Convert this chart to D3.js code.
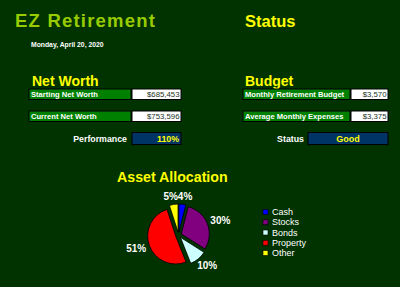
<!DOCTYPE html>
<html>
<head>
<meta charset="utf-8">
<script src="https://cdn.jsdelivr.net/npm/d3@7"></script>
<style>
  body { margin: 0; background: #003300; }
  svg { display: block; font-family: "Liberation Sans", Arial, sans-serif; }
</style>
</head>
<body>
<script>
// ---- data ----
const reportDate = "Monday, April 20, 2020";

const netWorthLabels = ["Starting Net Worth", "Current Net Worth"];
const netWorthValues = [685453, 753596];
const performance = "110%";

const budgetLabels = ["Monthly Retirement Budget", "Average Monthly Expenses"];
const budgetValues = [3570, 3375];
const budgetStatus = "Good";

const assetCategories = ["Cash", "Stocks", "Bonds", "Property", "Other"];
const assetValues = [4, 30, 10, 51, 5];
const assetColors = ["#0000ff", "#800080", "#ccffff", "#ff0000", "#ffff00"];

const w = 400, h = 287;
const fmt = d3.format("$,");

const svg = d3.select("body").append("svg")
    .attr("width", w)
    .attr("height", h);

svg.append("rect").attr("width", w).attr("height", h).attr("fill", "#003300");

// headings
svg.append("text").attr("x", 15).attr("y", 27)
    .attr("font-size", 18.5).attr("font-weight", "bold")
    .attr("letter-spacing", 1.2)
    .attr("fill", "#99cc00").text("EZ Retirement");

svg.append("text").attr("x", 245).attr("y", 27)
    .attr("font-size", 16.5).attr("font-weight", "bold")
    .attr("fill", "#ffff00").text("Status");

svg.append("text").attr("x", 31).attr("y", 47)
    .attr("font-size", 6.8).attr("font-weight", "bold")
    .attr("fill", "#ffffff").text(reportDate);

svg.append("text").attr("x", 32).attr("y", 86)
    .attr("font-size", 14).attr("font-weight", "bold")
    .attr("fill", "#ffff00").text("Net Worth");

svg.append("text").attr("x", 245).attr("y", 86)
    .attr("font-size", 14).attr("font-weight", "bold")
    .attr("fill", "#ffff00").text("Budget");

// label / value rows
const rowY = d3.scalePoint().domain([0, 1]).range([89, 111]);

function rows(labels, values, x0, x1, x2) {
    const g = svg.append("g");
    const row = g.selectAll("g").data(labels).enter().append("g")
        .attr("transform", (d, i) => `translate(0,${rowY(i)})`);

    row.append("rect")
        .attr("x", x0).attr("y", 0)
        .attr("width", x1 - x0 - 1).attr("height", 10.5)
        .attr("fill", "#008000").attr("stroke", "#000").attr("stroke-width", 1);
    row.append("text")
        .attr("x", x0 + 2).attr("y", 8.3)
        .attr("font-size", 7.6).attr("font-weight", "bold")
        .attr("fill", "#ffffff").text(d => d);

    row.append("rect")
        .attr("x", x1).attr("y", 0)
        .attr("width", x2 - x1).attr("height", 10.5)
        .attr("fill", "#ffffff").attr("stroke", "#000").attr("stroke-width", 1);
    row.append("text")
        .attr("x", x2 - 1.5).attr("y", 8.3)
        .attr("text-anchor", "end")
        .attr("font-size", 7.8)
        .attr("fill", "#223322").text((d, i) => fmt(values[i]));
}

rows(netWorthLabels, netWorthValues, 29, 132, 181);
rows(budgetLabels, budgetValues, 243, 351, 388);

// performance / status
svg.append("text").attr("x", 127).attr("y", 142)
    .attr("text-anchor", "end")
    .attr("font-size", 8.8).attr("font-weight", "bold")
    .attr("fill", "#ffffff").text("Performance");
svg.append("rect").attr("x", 132).attr("y", 132.5)
    .attr("width", 49).attr("height", 12)
    .attr("fill", "#003366").attr("stroke", "#000");
svg.append("text").attr("x", 179).attr("y", 142)
    .attr("text-anchor", "end")
    .attr("font-size", 8.8).attr("font-weight", "bold")
    .attr("fill", "#ffff00").text(performance);

svg.append("text").attr("x", 304).attr("y", 142)
    .attr("text-anchor", "end")
    .attr("font-size", 8.8).attr("font-weight", "bold")
    .attr("fill", "#ffffff").text("Status");
svg.append("rect").attr("x", 308).attr("y", 132.5)
    .attr("width", 80).attr("height", 12)
    .attr("fill", "#003366").attr("stroke", "#000");
svg.append("text").attr("x", 348).attr("y", 142)
    .attr("text-anchor", "middle")
    .attr("font-size", 9).attr("font-weight", "bold")
    .attr("fill", "#ffff00").text(budgetStatus);

// Asset Allocation
svg.append("text").attr("x", 117).attr("y", 182)
    .attr("font-size", 14.2).attr("font-weight", "bold")
    .attr("fill", "#ffff00").text("Asset Allocation");

const cx = 178.5, cy = 235, r = 28, explode = 3;

const pie = d3.pie().sort(null)(assetValues);
const arc = d3.arc().innerRadius(0).outerRadius(r);
const mid = d => (d.startAngle + d.endAngle) / 2;

const pieG = svg.append("g").attr("transform", `translate(${cx},${cy})`);

pieG.selectAll("path").data(pie).enter().append("path")
    .attr("transform", d => `translate(${Math.sin(mid(d)) * explode},${-Math.cos(mid(d)) * explode})`)
    .attr("d", arc)
    .attr("fill", (d, i) => assetColors[i])
    .attr("stroke", "#000").attr("stroke-width", 0.8);

// slice labels, pushed outward from a radius
const labelR = 35, labelH = 9;
const labels = pieG.selectAll("text.pct").data(pie).enter().append("text")
    .attr("class", "pct")
    .attr("font-size", 10).attr("font-weight", "bold")
    .attr("fill", "#ffffff")
    .attr("text-anchor", "middle")
    .attr("dominant-baseline", "central")
    .text(d => d.data + "%");

const boxes = [];
labels.each(function (d) {
    const tw = this.getComputedTextLength();
    const a = mid(d);
    const x = Math.sin(a) * labelR + Math.sin(a) * tw / 2;
    const y = -Math.cos(a) * labelR - Math.cos(a) * labelH / 2;
    boxes.push({ node: this, x, y, tw });
});
// nudge neighbours that overlap horizontally
for (let i = 0; i < boxes.length; i++) {
    const a = boxes[i], b = boxes[(i + 1) % boxes.length];
    if (Math.abs(a.y - b.y) < labelH) {
        const left = a.x < b.x ? a : b, right = a.x < b.x ? b : a;
        const overlap = (left.x + left.tw / 2) - (right.x - right.tw / 2);
        if (overlap > 0) { left.x -= overlap / 2; right.x += overlap / 2; }
    }
}
boxes.forEach(b => d3.select(b.node).attr("x", b.x).attr("y", b.y + 0.5));

// legend
const legY = d3.scalePoint().domain(assetCategories).range([212, 253]);
const leg = svg.append("g").selectAll("g").data(assetCategories).enter().append("g")
    .attr("transform", d => `translate(263,${legY(d)})`);
leg.append("rect")
    .attr("x", 0).attr("y", -2.5)
    .attr("width", 5).attr("height", 5)
    .attr("fill", (d, i) => assetColors[i])
    .attr("stroke", "#000").attr("stroke-width", 0.6);
leg.append("text")
    .attr("x", 9).attr("y", 3.2)
    .attr("font-size", 9)
    .attr("fill", "#ffffff").text(d => d);
</script>
</body>
</html>
